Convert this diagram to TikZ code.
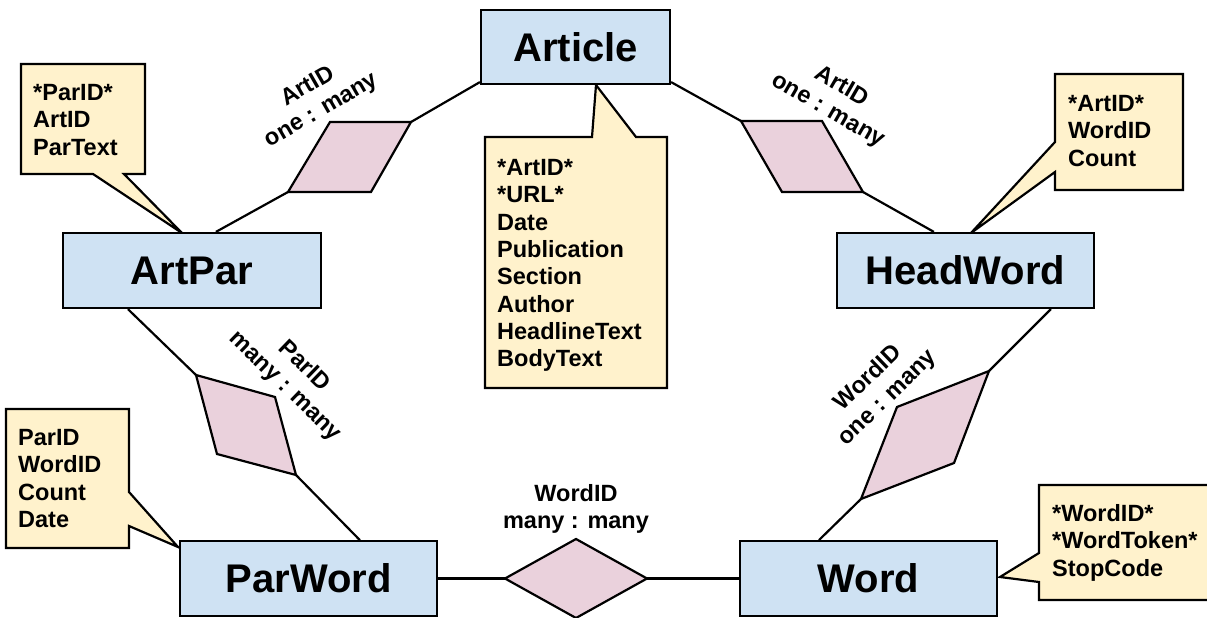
\documentclass[tikz,border=0pt]{standalone}
\usepackage{fontspec}
\setmainfont{Liberation Sans}
\usetikzlibrary{calc}
\definecolor{entblue}{HTML}{CFE2F3}
\definecolor{noteyellow}{HTML}{FFF2CC}
\definecolor{relpink}{HTML}{EAD1DC}
% stacked field names; the box's baseline is that of the first line
\newcommand\fieldlist[1]{\vtop{\fontsize{23.5}{27.3}\selectfont\bfseries #1}}
% two centred lines for a relationship label
\newcommand\rellabel[2]{\vtop{\fontsize{23.5}{27.3}\selectfont\bfseries\halign{\hfil##\hfil\cr #1\cr #2\cr}}}
\tikzset{
  entity/.style={draw, fill=entblue, line width=2.2pt, inner sep=0pt,
    font=\fontsize{40}{48}\selectfont\bfseries},
  fieldtext/.style={anchor=base west, inner sep=0pt},
  rellbl/.style={anchor=base, inner sep=0pt},
  notebg/.style={draw, fill=noteyellow, line width=2.2pt, line join=miter},
  relshape/.style={draw, fill=relpink, line width=2.2pt, line join=miter},
  link/.style={draw, line width=2.2pt},
}
\begin{document}
\begin{tikzpicture}[x=1pt, y=-1pt]
\useasboundingbox (0,0) rectangle (1207,618);
\clip (0,0) rectangle (1207,618);

% attribute notes (callouts)
\path[notebg] (21,64) -- (145,64) -- (145,174) -- (124,174) -- (182,233)
  -- (93,174) -- (21,174) -- cycle;
\path[notebg] (485,137) -- (592,137) -- (596,85) -- (636,137) -- (667,137)
  -- (667,388) -- (485,388) -- cycle;
\path[notebg] (1055,74) -- (1183,74) -- (1183,190) -- (1055,190) -- (1055,172)
  -- (971,233) -- (1055,142) -- cycle;
\path[notebg] (6,409) -- (129,409) -- (129,492) -- (178,547) -- (129,526)
  -- (129,548) -- (6,548) -- cycle;
\path[notebg] (1039,485) -- (1220,485) -- (1220,600) -- (1039,600) -- (1039,582)
  -- (1000,577) -- (1039,553) -- cycle;

\node[fieldtext] (artparfields) at (33,100.5)
  {\fieldlist{\hbox{*ParID*}\hbox{ArtID}\hbox{ParText}}};
\node[fieldtext] (articlefields) at (497,175.5)
  {\fieldlist{\hbox{*ArtID*}\hbox{*URL*}\hbox{Date}\hbox{Publication}\hbox{Section}\hbox{Author}\hbox{HeadlineText}\hbox{BodyText}}};
\node[fieldtext] (headwordfields) at (1068,111.5)
  {\fieldlist{\hbox{*ArtID*}\hbox{WordID}\hbox{Count}}};
\node[fieldtext] (parwordfields) at (18,445.5)
  {\fieldlist{\hbox{ParID}\hbox{WordID}\hbox{Count}\hbox{Date}}};
\node[fieldtext] (wordfields) at (1052,521.5)
  {\fieldlist{\hbox{*WordID*}\hbox{*WordToken*}\hbox{StopCode}}};

% entities
\node[entity, minimum width=189pt, minimum height=74pt] (article) at (575.5,47) {Article};
\node[entity, minimum width=258pt, minimum height=75pt] (artpar) at (192,270.5) {ArtPar};
\node[entity, minimum width=257pt, minimum height=75pt] (headword) at (965.5,270.5) {HeadWord};
\node[entity, minimum width=257pt, minimum height=74.5pt] (parword) at (308.5,578.5) {ParWord};
\node[entity, minimum width=257pt, minimum height=74.5pt] (word) at (868.5,578.5) {Word};

% relationship shapes
\coordinate (r1a) at (330,122); \coordinate (r1b) at (411,122);
\coordinate (r1c) at (371,192); \coordinate (r1d) at (288,192);
\coordinate (r2a) at (741,121); \coordinate (r2b) at (822,121);
\coordinate (r2c) at (863,192); \coordinate (r2d) at (782,192);
\coordinate (r3a) at (196,375); \coordinate (r3b) at (275,397);
\coordinate (r3c) at (296,475); \coordinate (r3d) at (217,454);
\coordinate (r4a) at (989,371); \coordinate (r4b) at (954,463);
\coordinate (r4c) at (861,499); \coordinate (r4d) at (897,407);
\coordinate (r5l) at (505,578.5); \coordinate (r5t) at (576,539);
\coordinate (r5r) at (647,578.5); \coordinate (r5b) at (576,618);

\path[relshape] (r1a) -- (r1b) -- (r1c) -- (r1d) -- cycle;
\path[relshape] (r2a) -- (r2b) -- (r2c) -- (r2d) -- cycle;
\path[relshape] (r3a) -- (r3b) -- (r3c) -- (r3d) -- cycle;
\path[relshape] (r4a) -- (r4b) -- (r4c) -- (r4d) -- cycle;
\path[relshape] (r5l) -- (r5t) -- (r5r) -- (r5b) -- cycle;

% connectors
\path[link] ([xshift=154pt]artpar.north west) -- (r1d);
\path[link] (r1b) -- ([yshift=3pt]article.south west);
\path[link] ([yshift=3pt]article.south east) -- (r2a);
\path[link] (r2c) -- ([xshift=98pt]headword.north west);
\path[link] ([xshift=66pt]artpar.south west) -- (r3a);
\path[link] (r3c) -- ([xshift=181pt]parword.north west);
\path[link] ([xshift=215pt]headword.south west) -- (r4a);
\path[link] (r4c) -- ([xshift=80pt]word.north west);
\path[link] (parword.east) -- (r5l);
\path[link] (r5r) -- (word.west);

% relationship labels
\node[rellbl, rotate=30] (lbl1) at (311,92) {\rellabel{ArtID}{one : many}};
\node[rellbl, rotate=-30] (lbl2) at (838.8,92.3) {\rellabel{ArtID}{one : many}};
\node[rellbl, rotate=-44] (lbl3) at (299.9,371) {\rellabel{ParID}{many : many}};
\node[rellbl, rotate=44] (lbl4) at (872.8,383) {\rellabel{WordID}{one : many}};
\node[rellbl] (lbl5) at (576,501.5) {\rellabel{WordID}{many : many}};
\end{tikzpicture}
\end{document}
